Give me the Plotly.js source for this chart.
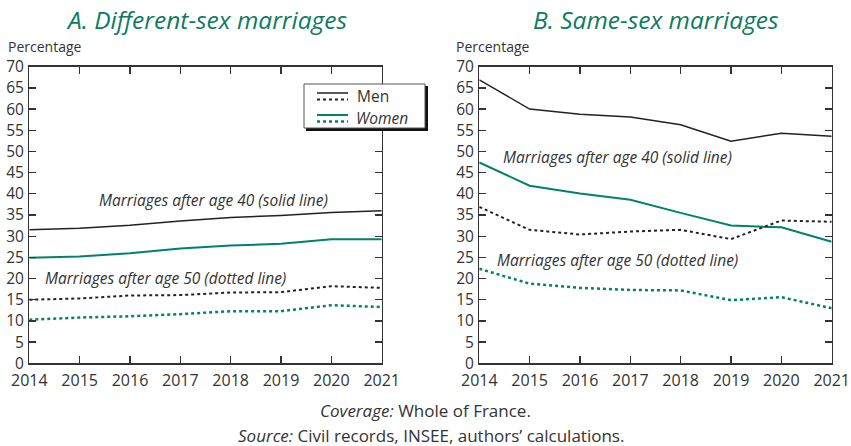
<!DOCTYPE html>
<html>
<head>
<meta charset="utf-8">
<script src="https://cdn.plot.ly/plotly-3.0.1.min.js"></script>
<style>html,body{margin:0;padding:0;background:#fff}#chart{width:851px;height:446px}</style>
</head>
<body>
<div id="chart"></div>
<script>
const years = [2014, 2015, 2016, 2017, 2018, 2019, 2020, 2021];
const yTicks = [0, 5, 10, 15, 20, 25, 30, 35, 40, 45, 50, 55, 60, 65, 70];

// A. Different-sex marriages
const diffMen40   = [31.5, 31.9, 32.6, 33.6, 34.4, 34.9, 35.6, 36.0];
const diffWomen40 = [24.9, 25.2, 26.0, 27.1, 27.8, 28.2, 29.3, 29.3];
const diffMen50   = [15.0, 15.3, 16.0, 16.1, 16.7, 16.8, 18.2, 17.8];
const diffWomen50 = [10.3, 10.8, 11.1, 11.6, 12.3, 12.3, 13.7, 13.3];

// B. Same-sex marriages
const sameMen40   = [66.9, 60.0, 58.8, 58.1, 56.3, 52.4, 54.3, 53.6];
const sameWomen40 = [47.4, 41.9, 40.1, 38.6, 35.5, 32.5, 32.1, 28.7];
const sameMen50   = [36.9, 31.5, 30.4, 31.1, 31.5, 29.3, 33.7, 33.4];
const sameWomen50 = [22.3, 18.8, 17.8, 17.3, 17.2, 14.9, 15.6, 13.0];

const BLACK = '#222222';
const GREEN = '#00826b';
const TITLE_GREEN = '#0e7a5f';
const TEXT = '#333333';
const FONT = 'Open Sans, Noto Sans, sans-serif';

function tr(y, color, dash, xa, ya, width) {
  return {x: years, y: y, type: 'scatter', mode: 'lines', xaxis: xa, yaxis: ya,
    line: {color: color, dash: dash, width: width}, showlegend: false, hoverinfo: 'skip'};
}

const traces = [
  tr(diffMen40, BLACK, 'solid', 'x', 'y', 1.5),
  tr(diffWomen40, GREEN, 'solid', 'x', 'y', 2),
  tr(diffMen50, BLACK, 'dot', 'x', 'y', 2),
  tr(diffWomen50, GREEN, 'dot', 'x', 'y', 2.5),
  tr(sameMen40, BLACK, 'solid', 'x2', 'y2', 1.5),
  tr(sameWomen40, GREEN, 'solid', 'x2', 'y2', 2),
  tr(sameMen50, BLACK, 'dot', 'x2', 'y2', 2),
  tr(sameWomen50, GREEN, 'dot', 'x2', 'y2', 2.5)
];

const W = 851, H = 446;
const px = v => v / W;
const py = v => 1 - v / H;

const yDom = [py(363.3), py(66.7)];

function xax(dom, anchor) {
  return {domain: dom, anchor: anchor, range: [2014, 2021], tickvals: years, ticktext: years.map(String),
    ticks: 'inside', ticklen: 7, tickcolor: '#333', tickwidth: 1.3,
    showline: true, linecolor: '#333', linewidth: 1.3, mirror: 'ticks',
    showgrid: false, zeroline: false, fixedrange: true, ticklabelstandoff: 2,
    tickfont: {family: FONT, size: 16, color: TEXT}};
}
function yax(anchor) {
  return {domain: yDom, anchor: anchor, range: [0, 70], tickvals: yTicks,
    ticks: 'inside', ticklen: 7, tickcolor: '#333', tickwidth: 1.3,
    showline: true, linecolor: '#333', linewidth: 1.3, mirror: 'ticks',
    showgrid: false, zeroline: false, fixedrange: true, ticklabelstandoff: 1,
    tickfont: {family: FONT, size: 15.5, color: TEXT}};
}

function ann(text, x, y, xref, yref, opts) {
  return Object.assign({text: text, x: x, y: y, xref: xref, yref: yref, showarrow: false,
    xanchor: 'center', yanchor: 'middle',
    font: {family: FONT, size: 15.5, color: TEXT}}, opts || {});
}

const annotations = [
  ann('<i>A. Different-sex marriages</i>', px(206), py(19), 'paper', 'paper',
    {font: {family: FONT, size: 24.5, color: TITLE_GREEN}}),
  ann('<i>B. Same-sex marriages</i>', px(656), py(19), 'paper', 'paper',
    {font: {family: FONT, size: 24.5, color: TITLE_GREEN}}),
  ann('Percentage', px(6), py(47), 'paper', 'paper', {xanchor: 'left', font: {family: FONT, size: 14, color: TEXT}}),
  ann('Percentage', px(454), py(47), 'paper', 'paper', {xanchor: 'left', font: {family: FONT, size: 14, color: TEXT}}),
  ann('<i>Marriages after age 40 (solid line)</i>', 2017.65, 38.5, 'x', 'y'),
  ann('<i>Marriages after age 50 (dotted line)</i>', 2016.7, 20.1, 'x', 'y'),
  ann('<i>Marriages after age 40 (solid line)</i>', 2016.75, 48.7, 'x2', 'y2'),
  ann('<i>Marriages after age 50 (dotted line)</i>', 2016.74, 24.4, 'x2', 'y2'),
  ann('<i>Coverage:</i> Whole of France.', px(425), py(410), 'paper', 'paper', {font: {family: FONT, size: 17, color: TEXT}}),
  ann('<i>Source:</i> Civil records, INSEE, authors’ calculations.', px(431), py(435), 'paper', 'paper', {font: {family: FONT, size: 17, color: TEXT}}),
  ann('Men', px(355), py(96), 'paper', 'paper', {xanchor: 'left', font: {family: FONT, size: 15.5, color: TEXT}}),
  ann('<i>Women</i>', px(354), py(118), 'paper', 'paper', {xanchor: 'left', font: {family: FONT, size: 15.5, color: TEXT}})
];

function rect(x0, y0, x1, y1, fill, lineColor, lw) {
  return {type: 'rect', xref: 'paper', yref: 'paper', x0: px(x0), x1: px(x1), y0: py(y1), y1: py(y0),
    fillcolor: fill, line: {color: lineColor, width: lw}, layer: 'above'};
}
function seg(x0, x1, y, color, dash, w) {
  return {type: 'line', xref: 'paper', yref: 'paper', x0: px(x0), x1: px(x1), y0: py(y), y1: py(y),
    line: {color: color, dash: dash, width: w}, layer: 'above'};
}

const shapes = [
  rect(306, 86, 428, 131, '#111', '#111', 0),
  rect(304, 84, 425, 128, '#fff', '#555', 1),
  seg(317, 348, 93, BLACK, 'solid', 1.5),
  seg(317, 348, 99.5, BLACK, 'dot', 2),
  seg(317, 348, 115, GREEN, 'solid', 2),
  seg(317, 348, 121.5, GREEN, 'dot', 2.5)
];

const layout = {
  width: W, height: H,
  margin: {l: 0, r: 0, t: 0, b: 0},
  paper_bgcolor: '#fff', plot_bgcolor: '#fff',
  showlegend: false,
  xaxis: xax([px(29.3), px(381.7)], 'y'),
  yaxis: yax('x'),
  xaxis2: xax([px(479.3), px(831.7)], 'y2'),
  yaxis2: yax('x2'),
  annotations: annotations,
  shapes: shapes
};

Plotly.newPlot('chart', traces, layout, {displayModeBar: false, staticPlot: true});
</script>
</body>
</html>
